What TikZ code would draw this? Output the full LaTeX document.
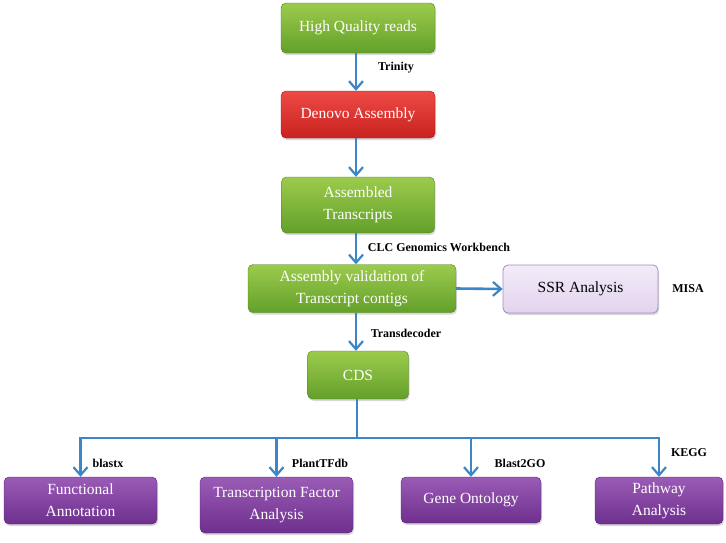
\documentclass[tikz,border=0pt]{standalone}
\usepackage{fontspec}
\setmainfont{Liberation Serif}
\usetikzlibrary{arrows.meta,shadows}
\definecolor{arrowblue}{HTML}{3A86C6}
\definecolor{gtop}{HTML}{9CCB4C}
\definecolor{gbot}{HTML}{63A02A}
\definecolor{rtop}{HTML}{EE4A45}
\definecolor{rbot}{HTML}{C9221F}
\definecolor{ptop}{HTML}{9A5CB5}
\definecolor{pbot}{HTML}{6E2F8E}
\definecolor{ltop}{HTML}{F3EBF9}
\definecolor{lbot}{HTML}{E2D3EE}
\definecolor{lborder}{HTML}{A58CBF}
\tikzset{
  box/.style={rounded corners=5pt, align=center, inner sep=2pt,
    font=\fontsize{15.5}{22}\selectfont, text=white,
    drop shadow={opacity=0.3, shadow xshift=1pt, shadow yshift=-2pt}},
  greenbox/.style={box, top color=gtop, bottom color=gbot, draw=gbot!80!black, line width=0.4pt},
  redbox/.style={box, top color=rtop, bottom color=rbot, draw=rbot!80!black, line width=0.4pt},
  purplebox/.style={box, top color=ptop, bottom color=pbot, draw=pbot!80!black, line width=0.4pt},
  lilacbox/.style={box, top color=ltop, bottom color=lbot, draw=lborder, line width=0.8pt, text=black},
  conn/.style={draw=arrowblue, line width=2.6pt},
  arr/.style={conn, -{Straight Barb[length=8pt,width=14pt,line width=2.2pt]}},
  tool/.style={font=\fontsize{12}{14}\selectfont\bfseries, text=black, inner sep=0pt}
}
\begin{document}
\begin{tikzpicture}[x=1pt,y=-1pt]
\useasboundingbox (0,0) rectangle (726,542);
\fill[white] (0,0) rectangle (726,542);
% nodes
\node[greenbox, minimum width=154pt, minimum height=50pt] (hq) at (358,28) {High Quality reads};
\node[redbox, minimum width=154pt, minimum height=47pt] (dn) at (358,114.5) {Denovo Assembly};
\node[greenbox, minimum width=153pt, minimum height=56pt] (at) at (358,205) {Assembled\\Transcripts};
\node[greenbox, minimum width=208pt, minimum height=48pt] (av) at (352,288.5) {Assembly validation of\\Transcript contigs};
\node[lilacbox, minimum width=155pt, minimum height=48pt] (ssr) at (580.5,289) {SSR Analysis};
\node[greenbox, minimum width=101pt, minimum height=48pt] (cds) at (358,375) {CDS};
\node[purplebox, minimum width=153pt, minimum height=47pt] (fa) at (80.5,500.5) {Functional\\Annotation};
\node[purplebox, minimum width=153pt, minimum height=56pt] (tf) at (276.5,505) {Transcription Factor\\Analysis};
\node[purplebox, minimum width=140pt, minimum height=46pt] (go) at (471,500) {Gene Ontology};
\node[purplebox, minimum width=128pt, minimum height=47pt] (pa) at (659,500.5) {Pathway\\Analysis};
% tool labels
\node[tool] (l1) at (396,68) {Trinity};
\node[tool] (l2) at (439,247) {CLC Genomics Workbench};
\node[tool] (l3) at (688,289) {MISA};
\node[tool] (l4) at (406,333) {Transdecoder};
\node[tool] (l5) at (108,463) {blastx};
\node[tool] (l6) at (320,463) {PlantTFdb};
\node[tool] (l7) at (520,463) {Blast2GO};
\node[tool] (l8) at (689,453) {KEGG};
% connectors
\draw[arr] (hq.south -| 356,0) -- (dn.north -| 356,0);
\draw[arr] (dn.south -| 356,0) -- (at.north -| 356,0);
\draw[arr] (at.south -| 356,0) -- (av.north -| 356,0);
\draw[arr] (av.east) -- (ssr.west);
\draw[arr] (av.south -| 356,0) -- (cds.north -| 356,0);
\coordinate (bus) at (357,438);
\draw[conn] (cds.south -| bus) -- (bus);
\draw[conn, line cap=rect] (fa.north |- bus) -- (pa.north |- bus);
\draw[arr] (fa.north |- bus) -- (fa.north);
\draw[arr] (tf.north |- bus) -- (tf.north);
\draw[arr] (go.north |- bus) -- (go.north);
\draw[arr] (pa.north |- bus) -- (pa.north);
\end{tikzpicture}
\end{document}
